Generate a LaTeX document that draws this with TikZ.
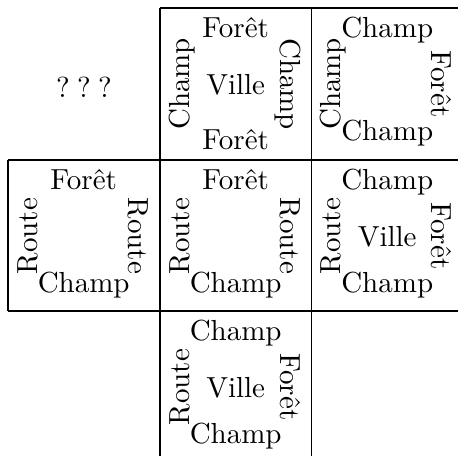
\documentclass[tikz,border=0pt]{standalone}
\begin{document}
\begin{tikzpicture}[x=1pt,y=-1pt,
  lbl/.style={scale=2.9, transform shape, anchor=base, inner sep=0pt},
  lft/.style={lbl, rotate=90},
  rgt/.style={lbl, rotate=-90},
  gridline/.style={line width=1.1pt, black}]
\useasboundingbox (0,0) rectangle (458,456);
% grid
\draw[gridline] (160,8) -- (160,456);
\draw[gridline] (311.5,8) -- (311.5,456);
\draw[gridline] (8,160) -- (8,311);
\draw[gridline] (160,8) -- (458,8);
\draw[gridline] (8,160) -- (458,160);
\draw[gridline] (8,311) -- (458,311);
% top-left
\node[scale=2.9, transform shape, inner sep=0pt] (q) at (84,87) {?\hspace{2.5pt}?\hspace{2.5pt}?};
% top-middle
\node[lbl] (a1) at (235.7,37) {Forêt};
\node[lbl] (a2) at (235.7,94) {Ville};
\node[lbl] (a3) at (235.7,149.7) {Forêt};
\node[lft] (a4) at (189.2,84) {Champ};
\node[rgt] (a5) at (280.3,84) {Champ};
% top-right
\node[lbl] (b1) at (387.2,37) {Champ};
\node[lbl] (b3) at (387.2,140.5) {Champ};
\node[lft] (b4) at (340.7,84) {Champ};
\node[rgt] (b5) at (431.8,84) {Forêt};
% middle-left
\node[lbl] (c1) at (83.7,189) {Forêt};
\node[lbl] (c3) at (83.7,292.5) {Champ};
\node[lft] (c4) at (37.2,236) {Route};
\node[rgt] (c5) at (128.3,236) {Route};
% middle
\node[lbl] (d1) at (235.7,189) {Forêt};
\node[lbl] (d3) at (235.7,292.5) {Champ};
\node[lft] (d4) at (189.2,236) {Route};
\node[rgt] (d5) at (280.3,236) {Route};
% middle-right
\node[lbl] (e1) at (387.2,189) {Champ};
\node[lbl] (e2) at (387.2,246) {Ville};
\node[lbl] (e3) at (387.2,292.5) {Champ};
\node[lft] (e4) at (340.7,236) {Route};
\node[rgt] (e5) at (431.8,236) {Forêt};
% bottom-middle
\node[lbl] (f1) at (235.7,340) {Champ};
\node[lbl] (f2) at (235.7,397) {Ville};
\node[lbl] (f3) at (235.7,443.5) {Champ};
\node[lft] (f4) at (189.2,387) {Route};
\node[rgt] (f5) at (280.3,387) {Forêt};
\end{tikzpicture}
\end{document}
